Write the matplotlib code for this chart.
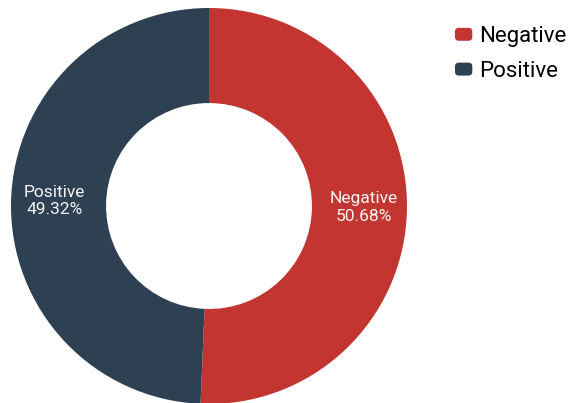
import numpy as np
import matplotlib.pyplot as plt
from matplotlib.patches import FancyBboxPatch, Patch
from matplotlib.legend_handler import HandlerPatch

plt.rcParams['font.family'] = ['Roboto', 'DejaVu Sans']

# sentiment split
labels = ["Negative", "Positive"]
shares = [50.68, 49.32]
colors = ["#c33530", "#2d4153"]


class RoundedHandler(HandlerPatch):
    # legend keys as small rounded bars
    def create_artists(self, legend, orig_handle, xdescent, ydescent,
                       width, height, fontsize, trans):
        p = FancyBboxPatch((-xdescent, -ydescent), width, height,
                           boxstyle="round,pad=0,rounding_size=%f" % (height * 0.3),
                           facecolor=orig_handle.get_facecolor(),
                           edgecolor="none", transform=trans)
        return [p]


fig = plt.figure(figsize=(5.68, 4.03), dpi=100)
ax = fig.add_axes([11 / 568, -1 / 403, 396 / 568, 396 / 403])

wedges, _ = ax.pie(shares, colors=colors, startangle=90, counterclock=False,
                   wedgeprops=dict(width=0.48, edgecolor="none"))

for w, lab, val in zip(wedges, labels, shares):
    mid = np.deg2rad((w.theta1 + w.theta2) / 2)
    r = 0.78
    ax.text(r * np.cos(mid), r * np.sin(mid) + 0.01, f"{lab}\n{val:.2f}%",
            ha="center", va="center", color="#f4f4f4", fontsize=12.5,
            linespacing=1.2)

ax.set_aspect("equal")
ax.set_xlim(-1, 1)
ax.set_ylim(-1, 1)
ax.axis("off")

handles = [Patch(facecolor=c, label=l) for c, l in zip(colors, labels)]
fig.legend(handles=handles, loc="upper left", bbox_to_anchor=(0.801, 0.935),
           frameon=False, borderpad=0, borderaxespad=0,
           prop={"size": 16},
           handlelength=0.78, handleheight=0.52,
           handletextpad=0.3, labelspacing=0.62,
           handler_map={Patch: RoundedHandler()})

fig.savefig("out.png", dpi=100, facecolor="white")
